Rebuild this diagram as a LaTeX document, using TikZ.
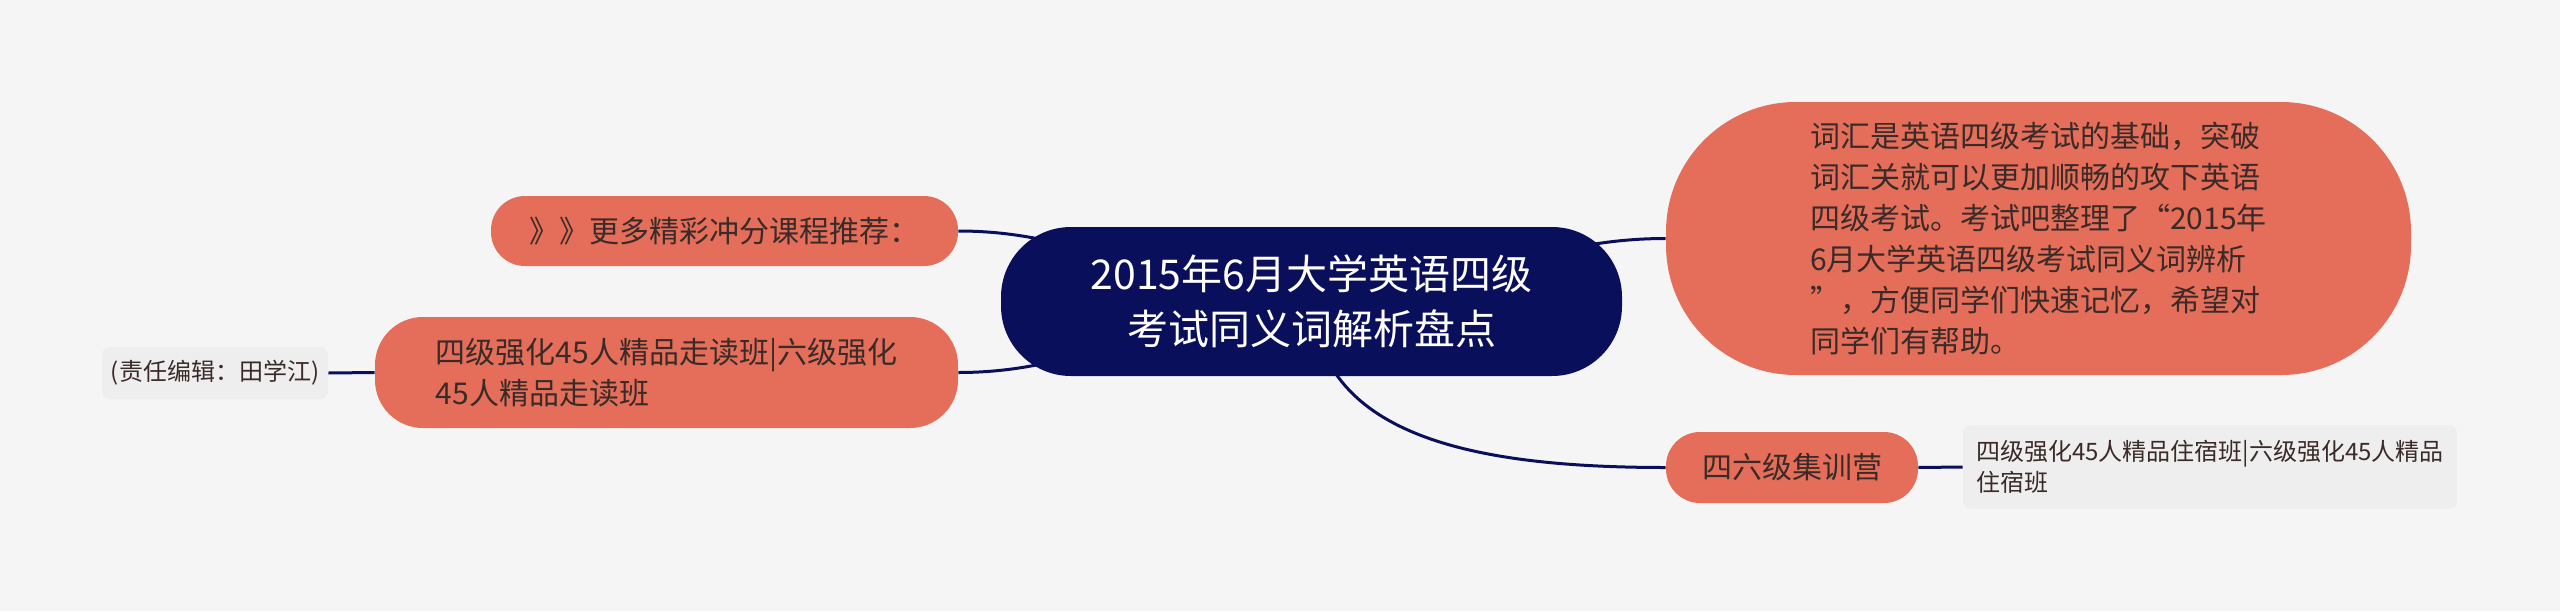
\documentclass[tikz,border=0pt]{standalone}
\usepackage{fontspec}
\setmainfont{Noto Sans CJK SC}
\usepackage{xcolor}
\usepackage{tikz}
\usetikzlibrary{backgrounds}

\definecolor{paper}{HTML}{F5F5F5}
\definecolor{navy}{HTML}{0A0F5C}
\definecolor{coral}{HTML}{E46E5A}
\definecolor{leafgray}{HTML}{EEEEEE}
\definecolor{ink}{HTML}{3A2B28}

\begin{document}
\begin{tikzpicture}[x=0.5pt,y=-0.5pt]
			\tikzstyle{hub} = [fill=navy, text=white, rounded corners=35pt, inner sep=0pt, align=center, font=\fontsize{20.5pt}{27.5pt}\selectfont]
			\tikzstyle{topic} = [fill=coral, text=ink, inner sep=0pt, align=left, font=\fontsize{15pt}{20.5pt}\selectfont]
			\tikzstyle{leaf} = [fill=leafgray, text=ink, rounded corners=4pt, inner sep=0pt, align=left, font=\fontsize{12pt}{15.5pt}\selectfont]
			\tikzset{link/.style = {draw=navy, line width=1.5pt}}
			
			\useasboundingbox (0,0) rectangle (2560,611);
			
			\node[hub, minimum width=310.5pt, minimum height=74.5pt](hub) at (1311.5,301.5) {2015年6月大学英语四级\\考试同义词解析盘点};
			
			\node[topic, rounded corners=65pt, minimum width=372.5pt, minimum height=136.5pt](notes) at (2038.5,238.5) {词汇是英语四级考试的基础，突破\\词汇关就可以更加顺畅的攻下英语\\四级考试。考试吧整理了“2015年\\6月大学英语四级考试同义词辨析\\”，方便同学们快速记忆，希望对\\同学们有帮助。};
			\node[topic, rounded corners=17pt, minimum width=233.5pt, minimum height=35pt](more) at (724.5,231) {》》更多精彩冲分课程推荐：};
			\node[topic, rounded corners=24pt, minimum width=291.5pt, minimum height=55.5pt](study) at (666.5,372.5) {四级强化45人精品走读班|六级强化\\45人精品走读班};
			\node[topic, rounded corners=17pt, minimum width=126pt, minimum height=35.5pt](camp) at (1792,467.5) {四六级集训营};
			
			\node[leaf, minimum width=113pt, minimum height=26pt](editor) at (215,373) {(责任编辑：田学江)};
			\node[leaf, minimum width=247pt, minimum height=42pt](stay) at (2210,467) {四级强化45人精品住宿班|六级强化45人精品\\住宿班};
			
			\begin{scope}[on background layer]
			\fill[paper] (0,0) rectangle (2560,611);
			\draw[link](hub.center) to[out=0,in=180] (notes.west);
			\draw[link](hub.center) to[out=180,in=0] (more.east);
			\draw[link](hub.center) to[out=180,in=0] (study.east);
			\draw[link](hub.center) .. controls +(10,130) and +(-205,0) .. (camp.west);
			\draw[link](study.west) -- (editor.east);
			\draw[link](camp.east) -- (stay.west);
			\end{scope}
			
			\end{tikzpicture}
\end{document}
